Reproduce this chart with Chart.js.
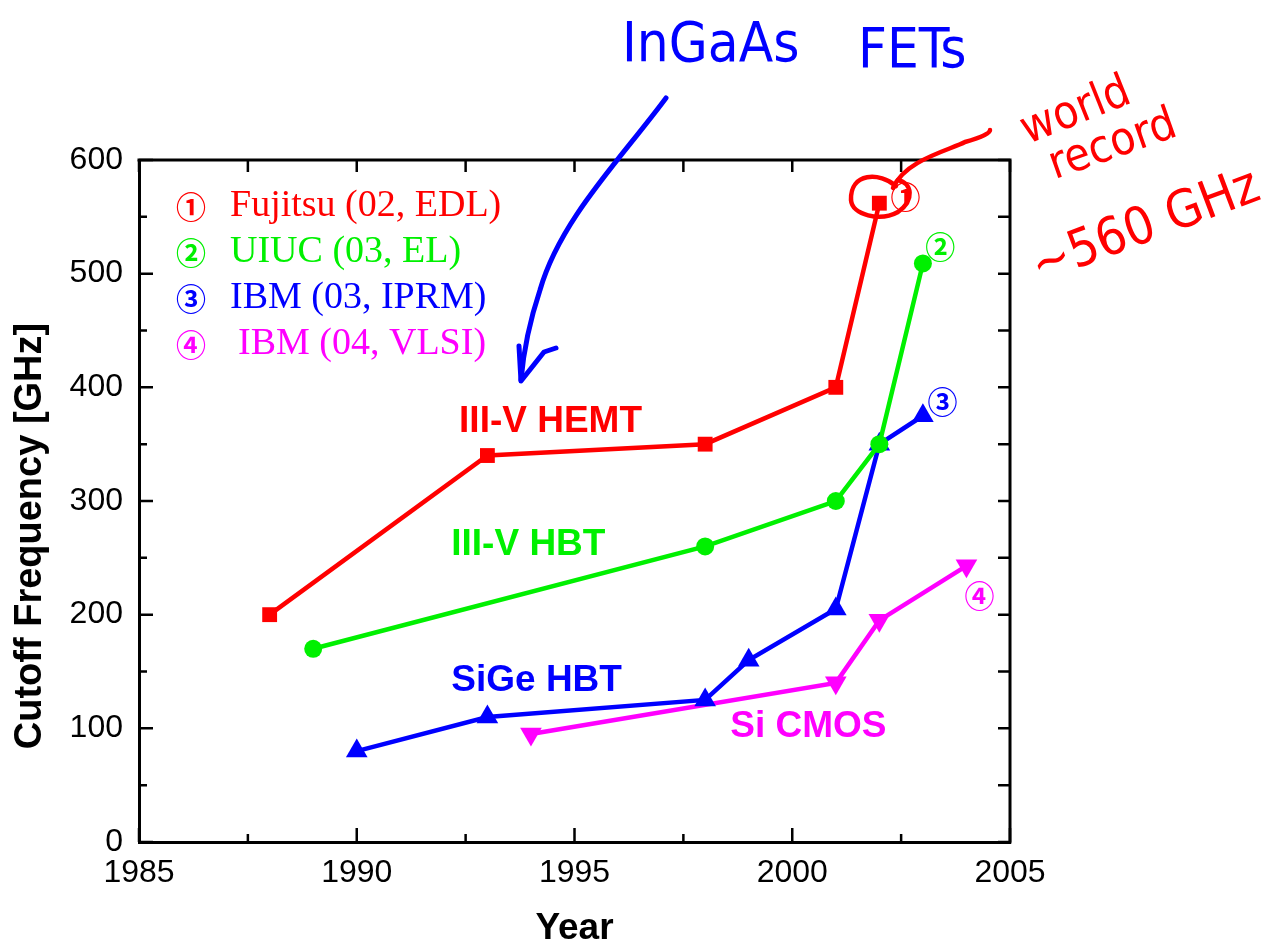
<!DOCTYPE html>
<html>
<head>
<meta charset="utf-8">
<script src="https://cdn.jsdelivr.net/npm/chart.js@4.4.1/dist/chart.umd.min.js"></script>
<style>
    body { margin: 0; background: #fff; }
    #wrap { width: 1271px; height: 949px; }
</style>
</head>
<body>
<div id="wrap"><canvas id="chart" width="1271" height="949"></canvas></div>
<script>
// tick labels
const yearTicks = [1985, 1990, 1995, 2000, 2005];
const freqTicks = [0, 100, 200, 300, 400, 500, 600];

// III-V HEMT (red squares)
const hemtYears = [1988, 1993, 1998, 2001, 2002];
const hemtFt = [200, 340, 350, 400, 562];

// III-V HBT (green circles)
const hbtYears = [1989, 1998, 2001, 2002, 2003];
const hbtFt = [170, 260, 300, 350, 509];

// SiGe HBT (blue triangles)
const sigeYears = [1990, 1993, 1998, 1999, 2001, 2002, 2003];
const sigeFt = [80, 110, 125, 160, 205, 350, 375];

// Si CMOS (magenta down triangles)
const cmosYears = [1994, 2001, 2002, 2004];
const cmosFt = [95, 140, 195, 243];

const legendItems = ['\u2460  Fujitsu (02, EDL)', '\u2461  UIUC (03, EL)', '\u2462  IBM (03, IPRM)', '\u2463  IBM (04, VLSI)'];

const RED = '#ff0000', GREEN = '#00f000', BLUE = '#0000ff', MAGENTA = '#ff00ff';
const CIRCLED_FONT = 'bold 30px "Noto Sans CJK JP", "DejaVu Sans"';

function pts(xs, ys) {
    return xs.map((x, i) => ({ x: x, y: ys[i] }));
}

function series(label, xs, ys, color, style, radius, rotation) {
    return {
        label: label,
        data: pts(xs, ys),
        borderColor: color,
        backgroundColor: color,
        borderWidth: 4.5,
        pointStyle: style,
        pointRadius: radius,
        pointRotation: rotation || 0,
        pointBorderWidth: 0,
        tension: 0
    };
}

// frame, inward ticks, text labels and the hand-written notes
const decorPlugin = {
    id: 'decor',
    afterDraw(chart) {
        const ctx = chart.ctx;
        const xs = chart.scales.x, ys = chart.scales.y;
        const a = chart.chartArea;
        ctx.save();
        ctx.strokeStyle = '#000';
        ctx.lineWidth = 3;
        ctx.lineCap = 'square';
        ctx.beginPath();
        ctx.moveTo(a.left, a.top); ctx.lineTo(a.right, a.top); ctx.lineTo(a.right, a.bottom);
        ctx.stroke();

        ctx.lineWidth = 2.5;
        ctx.lineCap = 'butt';
        ctx.beginPath();
        for (let i = 0; i < yearTicks.length; i++) {
            const vals = [yearTicks[i]];
            if (i < yearTicks.length - 1) vals.push((yearTicks[i] + yearTicks[i + 1]) / 2);
            vals.forEach((v, k) => {
                const px = xs.getPixelForValue(v);
                const len = k === 0 ? 14 : 8;
                ctx.moveTo(px, a.bottom); ctx.lineTo(px, a.bottom - len);
                ctx.moveTo(px, a.top); ctx.lineTo(px, a.top + 12);
            });
        }
        for (let i = 0; i < freqTicks.length; i++) {
            const vals = [freqTicks[i]];
            if (i < freqTicks.length - 1) vals.push((freqTicks[i] + freqTicks[i + 1]) / 2);
            vals.forEach((v, k) => {
                const py = ys.getPixelForValue(v);
                const len = k === 0 ? 14 : 8;
                ctx.moveTo(a.left, py); ctx.lineTo(a.left + len, py);
                ctx.moveTo(a.right, py); ctx.lineTo(a.right - 12, py);
            });
        }
        ctx.stroke();

        // y axis title, sitting a little below the middle as in the original
        ctx.save();
        ctx.translate(31, 536);
        ctx.rotate(-Math.PI / 2);
        ctx.fillStyle = '#000';
        ctx.font = 'bold 38px "Liberation Sans"';
        ctx.textAlign = 'center';
        ctx.textBaseline = 'middle';
        ctx.fillText('Cutoff Frequency [GHz]', 0, 0);
        ctx.restore();

        // legend
        const colors = [RED, GREEN, BLUE, MAGENTA];
        ctx.textBaseline = 'middle';
        ctx.textAlign = 'left';
        legendItems.forEach((t, i) => {
            const y = 206 + i * 46;
            const parts = t.split('  ');
            ctx.fillStyle = colors[i];
            ctx.font = CIRCLED_FONT;
            ctx.fillText(parts[0], 176, y + 1);
            ctx.font = '38px "Liberation Serif"';
            ctx.fillText(parts[1], i === 3 ? 238 : 230, y);
        });

        // series names
        ctx.textAlign = 'center';
        ctx.font = 'bold 37px "Liberation Sans"';
        const names = [
            ['III-V HEMT', 1994.45, 371, RED],
            ['III-V HBT', 1993.94, 263, GREEN],
            ['SiGe HBT', 1994.13, 144, BLUE],
            ['Si CMOS', 2000.37, 103, MAGENTA]
        ];
        names.forEach(n => {
            ctx.fillStyle = n[3];
            ctx.fillText(n[0], xs.getPixelForValue(n[1]), ys.getPixelForValue(n[2]) + 2);
        });

        // circled numbers by the record points
        ctx.font = CIRCLED_FONT;
        const marks = [
            ['\u2460', 2002.6, 569, RED],
            ['\u2461', 2003.4, 525, GREEN],
            ['\u2462', 2003.45, 388, BLUE],
            ['\u2463', 2004.3, 218, MAGENTA]
        ];
        marks.forEach(m => {
            ctx.fillStyle = m[3];
            ctx.fillText(m[0], xs.getPixelForValue(m[1]), ys.getPixelForValue(m[2]) + 1);
        });

        // hand-written blue note and arrow
        ctx.strokeStyle = BLUE;
        ctx.fillStyle = BLUE;
        ctx.lineWidth = 5;
        ctx.lineCap = 'round';
        ctx.lineJoin = 'round';
        ctx.font = '56px "DejaVu Sans Condensed"';
        ctx.textAlign = 'left';
        ctx.fillText('InGaAs', 622, 46);
        ctx.fillText('FETs', 858, 52);
        ctx.beginPath();
        ctx.moveTo(666, 98);
        ctx.bezierCurveTo(620, 160, 560, 220, 540, 290);
        ctx.quadraticCurveTo(525, 335, 521, 380);
        ctx.stroke();
        ctx.beginPath();
        ctx.moveTo(519, 346); ctx.lineTo(521, 381); ctx.lineTo(544, 352); ctx.lineTo(556, 348);
        ctx.stroke();

        // hand-written red note
        ctx.strokeStyle = RED;
        ctx.fillStyle = RED;
        ctx.lineWidth = 4.5;
        ctx.beginPath();
        ctx.moveTo(896, 186);
        ctx.bezierCurveTo(880, 172, 850, 172, 851, 200);
        ctx.bezierCurveTo(852, 215, 880, 222, 898, 212);
        ctx.bezierCurveTo(915, 200, 912, 183, 898, 180);
        ctx.stroke();
        ctx.beginPath();
        ctx.moveTo(893, 188);
        ctx.bezierCurveTo(905, 160, 950, 150, 965, 142);
        ctx.quadraticCurveTo(990, 135, 990, 130);
        ctx.stroke();

        const notes = [
            ['world', 1076, 112, -0.38, 46],
            ['record', 1113, 146, -0.34, 46],
            ['~560 GHz', 1146, 228, -0.36, 52]
        ];
        ctx.textAlign = 'center';
        notes.forEach(n => {
            ctx.save();
            ctx.translate(n[1], n[2]);
            ctx.rotate(n[3]);
            ctx.font = n[4] + 'px "DejaVu Sans Condensed"';
            ctx.fillText(n[0], 0, 0);
            ctx.restore();
        });
        ctx.restore();
    }
};

const ctx = document.getElementById('chart').getContext('2d');
new Chart(ctx, {
    type: 'line',
    data: {
        datasets: [
            series('III-V HEMT', hemtYears, hemtFt, RED, 'rect', 10.5),
            series('III-V HBT', hbtYears, hbtFt, GREEN, 'circle', 9),
            series('SiGe HBT', sigeYears, sigeFt, BLUE, 'triangle', 12.5),
            series('Si CMOS', cmosYears, cmosFt, MAGENTA, 'triangle', 12.5, 180)
        ]
    },
    options: {
        responsive: false,
        animation: false,
        layout: { padding: { left: 0, right: 261, top: 160, bottom: 0 } },
        plugins: {
            legend: { display: false },
            tooltip: { enabled: false }
        },
        scales: {
            x: {
                type: 'linear',
                min: 1985,
                max: 2005,
                afterBuildTicks: s => { s.ticks = yearTicks.map(v => ({ value: v })); },
                afterFit: s => { s.height = 107; },
                grid: { display: false, drawTicks: false },
                border: { display: true, color: '#000', width: 3 },
                ticks: {
                    color: '#000',
                    padding: 12,
                    maxRotation: 0,
                    font: { family: '"Liberation Sans"', size: 32 },
                    callback: v => String(v)
                },
                title: {
                    display: true,
                    text: 'Year',
                    color: '#000',
                    padding: { top: 0, bottom: 2 },
                    font: { family: '"Liberation Sans"', size: 37, weight: 'bold', lineHeight: 1.0 }
                }
            },
            y: {
                type: 'linear',
                min: 0,
                max: 600,
                afterBuildTicks: s => { s.ticks = freqTicks.map(v => ({ value: v })); },
                afterFit: s => { s.width = 139; },
                grid: { display: false, drawTicks: false },
                border: { display: true, color: '#000', width: 3 },
                ticks: {
                    color: '#000',
                    padding: 16,
                    font: { family: '"Liberation Sans"', size: 32 },
                    callback: v => String(v)
                },
                title: { display: false }
            }
        }
    },
    plugins: [decorPlugin]
});
</script>
</body>
</html>
